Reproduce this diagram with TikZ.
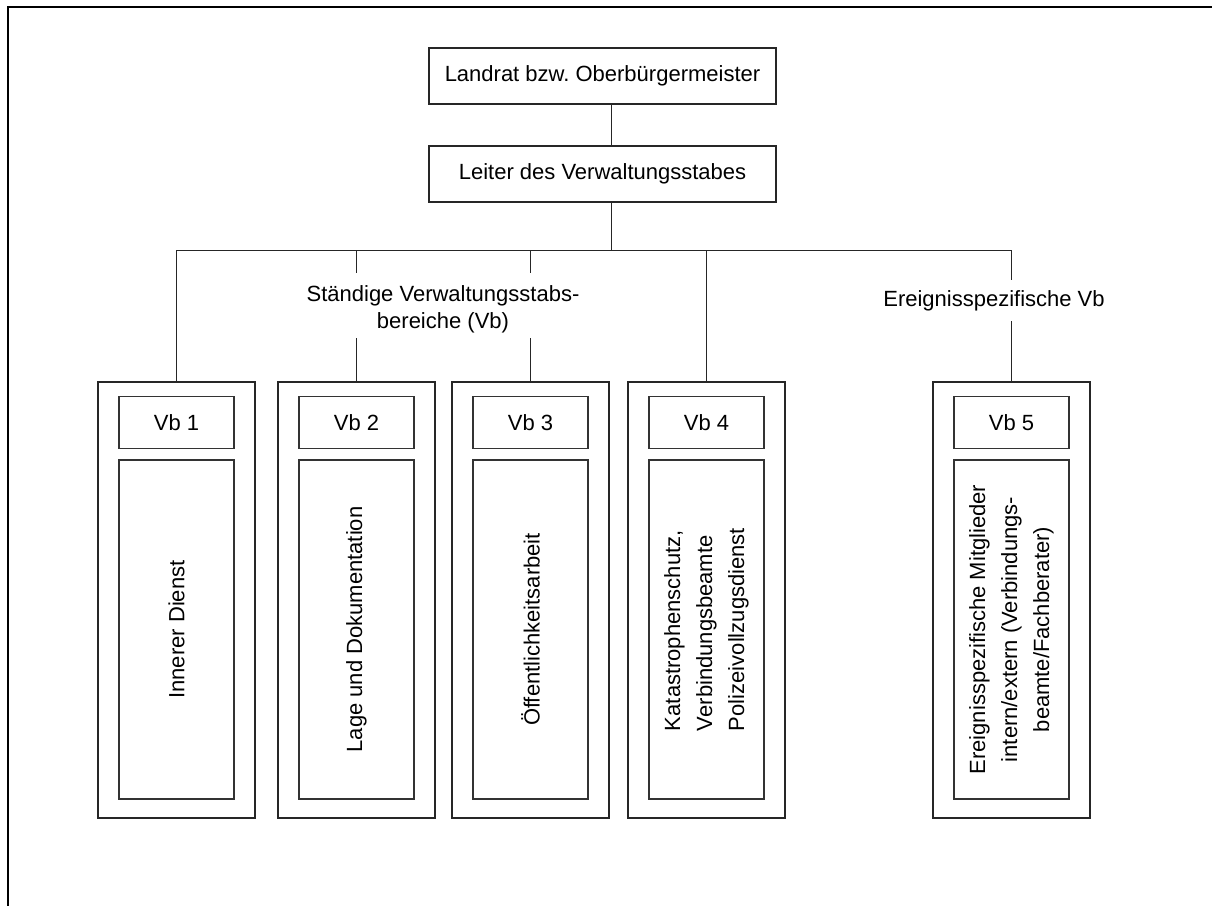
\documentclass[tikz,border=0pt]{standalone}
\usepackage{fontspec}
\setmainfont{Liberation Sans}
\usepackage{tikz}
\usetikzlibrary{positioning}

\tikzset{
  base/.style={font=\fontsize{11pt}{13.5pt}\selectfont},
  topbox/.style={base,draw=black!85,line width=0.6pt,minimum width=173.5pt,minimum height=28pt,inner sep=0pt},
  outerbox/.style={draw=black!85,line width=0.8pt,minimum width=78.5pt,minimum height=218pt,inner sep=0pt},
  labbox/.style={base,draw=black!80,line width=0.6pt,minimum width=57.5pt,minimum height=26pt,inner sep=0pt},
  txtbox/.style={base,draw=black!80,line width=0.6pt,rotate=90,minimum width=169.5pt,minimum height=57.5pt,inner sep=2pt,
    font=\fontsize{11pt}{16pt}\selectfont},
  conn/.style={draw=black!85,line width=0.5pt}
}

\begin{document}
\begin{tikzpicture}[x=0.5pt,y=-0.5pt]
  \useasboundingbox (0,0) rectangle (1212,906);
  % page frame
  \draw[line width=1pt] (8,906) -- (8,7) -- (1212,7);

  \node[topbox] (boss) at (602.5,76) {Landrat bzw.\ Oberbürgermeister};
  \node[topbox] (leiter) at (602.5,174) {Leiter des Verwaltungsstabes};
  \coordinate (bus) at (611,250);

  \node[base,align=center,inner sep=0pt,minimum height=36.5pt] (staendig) at (443,309.5)
    {Ständige Verwaltungsstabs-\\bereiche (Vb)};
  \node[base,inner sep=0pt,minimum height=20.5pt] (ereig) at (994,300.5) {Ereignisspezifische Vb};

  % one column per Vb
  \foreach [count=\i] \xc/\al/\txt in {
      176.5/center/{Innerer Dienst},
      356.5/center/{Lage und Dokumentation},
      530.5/center/{Öffentlichkeitsarbeit},
      706.5/left/{Katastrophenschutz,\\Verbindungsbeamte\\Polizeivollzugsdienst},
      1011.5/center/{Ereignisspezifische Mitglieder\\intern/extern (Verbindungs-\\beamte/Fachberater)}} {
    \node[outerbox] (vb\i) at (\xc,600) {};
    \node[labbox, below=7.5pt of vb\i.north] (lab\i) {Vb \i};
    \node[txtbox, anchor=east, align=\al] (txt\i) at ([yshift=-5pt]lab\i.south) {\txt};
  }

  % connectors
  \draw[conn] (boss.south -| bus) -- (leiter.north -| bus);
  \draw[conn] (leiter.south -| bus) -- (bus);
  \draw[conn] (vb1.north) -- (vb1.north |- bus) -- (vb5.north |- bus) -- (vb5.north |- ereig.north);
  \draw[conn] (ereig.south -| vb5.north) -- (vb5.north);
  \draw[conn] (vb4.north |- bus) -- (vb4.north);
  \foreach \i in {2,3} {
    \draw[conn] (vb\i.north |- bus) -- (vb\i.north |- staendig.north);
    \draw[conn] ([yshift=4pt]staendig.south -| vb\i.north) -- (vb\i.north);
  }
\end{tikzpicture}
\end{document}
